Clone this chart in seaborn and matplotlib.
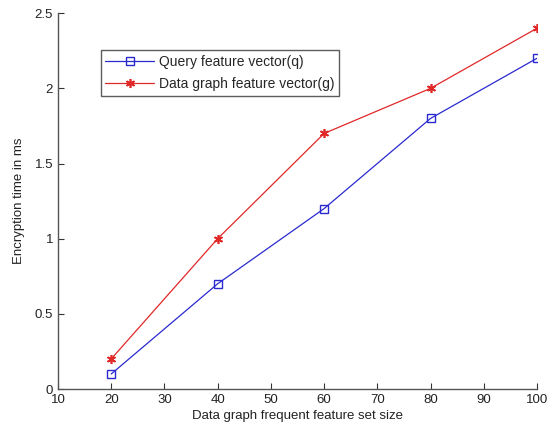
import matplotlib
matplotlib.use("Agg")
import matplotlib.pyplot as plt
import seaborn as sns
import pandas as pd

sizes = [20, 40, 60, 80, 100]
query_times = [0.1, 0.7, 1.2, 1.8, 2.2]
data_times = [0.2, 1.0, 1.7, 2.0, 2.4]
x_ticks = [10, 20, 30, 40, 50, 60, 70, 80, 90, 100]
y_ticks = [0, 0.5, 1, 1.5, 2, 2.5]
y_tick_labels = ["0", "0.5", "1", "1.5", "2", "2.5"]

sns.set_style("ticks")
plt.rcParams['font.family'] = ['Liberation Sans', 'DejaVu Sans']

fig = plt.figure(figsize=(5.49, 4.30), dpi=100)
ax = fig.add_axes([0.1056, 0.0953, 0.8725, 0.874])

df = pd.DataFrame({"size": sizes, "q": query_times, "g": data_times})

sns.lineplot(data=df, x="size", y="q", ax=ax, color="#2a2ad0", lw=0.9,
             marker="s", markersize=6, markerfacecolor="none",
             markeredgecolor="#2a2ad0", markeredgewidth=1.0,
             label="Query feature vector(q)")
sns.lineplot(data=df, x="size", y="g", ax=ax, color="#e02828", lw=0.9,
             marker=(6, 2, 0), markersize=6.5, markerfacecolor="#e02828",
             markeredgecolor="#e02828", markeredgewidth=1.2,
             label="Data graph feature vector(g)")

ax.set_xlim(10, 100)
ax.set_ylim(0, 2.5)
ax.set_xticks(x_ticks)
ax.set_yticks(y_ticks)
ax.set_yticklabels(y_tick_labels)
ax.tick_params(direction="in", length=4, width=0.8, labelsize=9.5, colors="#333333",
               labelcolor="#222222")
ax.set_xlabel("Data graph frequent feature set size", fontsize=9.5, color="#222222", labelpad=3)
ax.set_ylabel("Encryption time in ms", fontsize=9.5, color="#222222", labelpad=7)
for s in ["top", "right"]:
    ax.spines[s].set_visible(False)
for s in ["left", "bottom"]:
    ax.spines[s].set_color("#555555")
    ax.spines[s].set_linewidth(1.0)

leg = ax.legend(loc="upper left", bbox_to_anchor=(0.089, 0.901), fontsize=10,
                frameon=True, fancybox=False, edgecolor="#333333",
                borderpad=0.35, labelspacing=0.55, handlelength=3.5,
                handletextpad=0.35, borderaxespad=0)
leg.get_frame().set_linewidth(1.0)

fig.savefig("out.png", dpi=100)
